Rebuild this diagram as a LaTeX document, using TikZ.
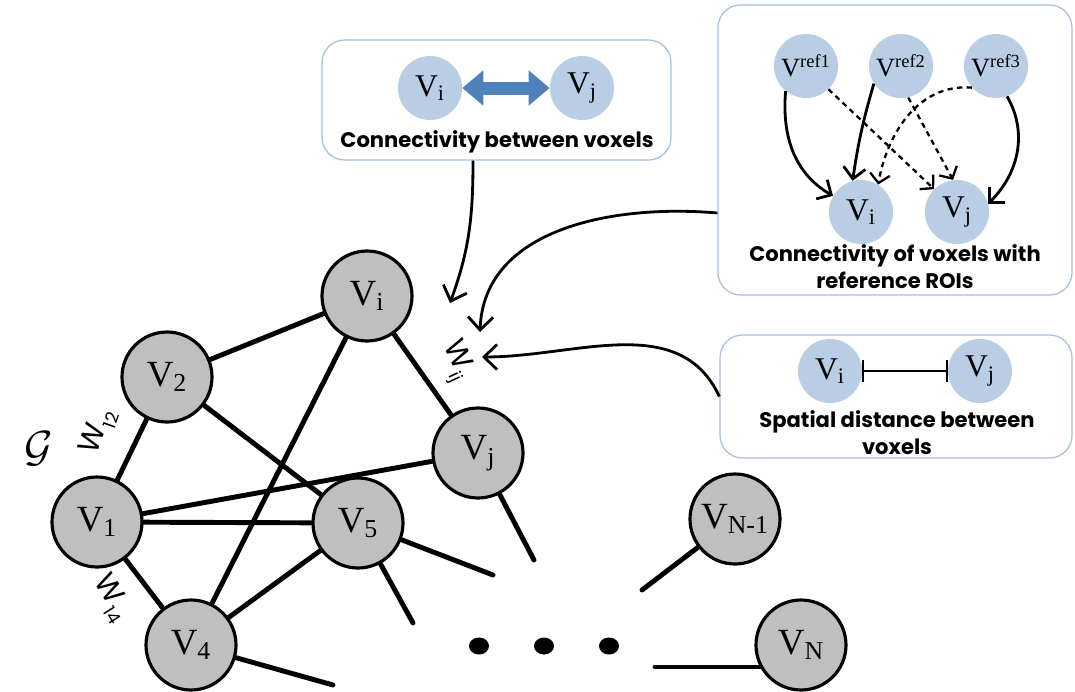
\documentclass[tikz,border=0pt]{standalone}
\usepackage{fontspec}
\setmainfont{Liberation Serif}
\newfontfamily\gothic{Poppins}
\usepackage{tikz}
\usetikzlibrary{positioning, arrows.meta, shapes.geometric}
\definecolor{grigionodo}{HTML}{BFBFBF}
\definecolor{blunodo}{HTML}{B9CDE5}
\definecolor{bordoriq}{HTML}{A7C0DE}
\definecolor{frecciablu}{HTML}{4F81BD}
\tikzset{
	>={Straight Barb[length=2.6mm, width=5mm]},
	% nodo del grafo (voxel)
	nodo/.style={circle, draw, line width=1.8pt, fill=grigionodo, minimum size=1.8cm, inner sep=0pt,
	             font=\fontsize{21}{24}\selectfont},
	% nodo nei riquadri
	nodoblu/.style={circle, fill=blunodo, minimum size=1.28cm, inner sep=0pt,
	                font=\fontsize{18}{20}\selectfont},
	% riquadro arrotondato
	riquadro/.style={draw=bordoriq, line width=0.7pt, rounded corners=0.45cm},
	% didascalia del riquadro
	didascalia/.style={align=center, font=\gothic\bfseries\fontsize{12}{15.5}\selectfont},
	% arco del grafo
	arco/.style={line width=2.8pt, line cap=round},
	% peso di un arco
	peso/.style={font=\gothic\fontsize{17}{19}\selectfont, inner sep=0pt},
	% connettore verso w_ij
	conn/.style={->, line width=1.6pt},
	% frecce nel riquadro delle ROI
	piena/.style={->, line width=1.6pt, >={Straight Barb[length=2.2mm, width=4.4mm]}},
	tratteggio/.style={->, line width=1.3pt, dash pattern=on 3pt off 2.5pt,
	                   >={Straight Barb[length=1.8mm, width=4mm]}},
	% freccia doppia
	doppia/.style={{Triangle[length=0.42cm, width=0.68cm]}-{Triangle[length=0.42cm, width=0.68cm]},
	               line width=0.26cm, draw=frecciablu},
	% distanza spaziale
	distanza/.style={{Bar[width=0.45cm]}-{Bar[width=0.45cm]}, line width=1.2pt},
	% puntini
	punto/.style={ellipse, fill=black, minimum width=0.4cm, minimum height=0.34cm, inner sep=0pt},
}
\newcommand{\pedice}[1]{\kern0.5pt\raisebox{-0.5ex}{\fontsize{10}{10}\selectfont #1}}

\begin{document}
\begin{tikzpicture}
    \useasboundingbox (0,0) rectangle (21.5,-13.82);

    % riquadri
    \node[riquadro, minimum width=6.98cm, minimum height=2.40cm] (r1) at (9.93,-2.00) {};
    \node[riquadro, minimum width=7.08cm, minimum height=5.80cm] (r2) at (17.90,-3.00) {};
    \node[riquadro, minimum width=7.04cm, minimum height=2.46cm] (r3) at (17.92,-7.93) {};

    % connettività tra voxel
    \node[nodoblu] (ai) at (8.60,-1.76) {V\textsubscript{i}};
    \node[nodoblu] (aj) at (11.64,-1.76) {V\textsubscript{j}};
    \draw[doppia] (ai) -- (aj);
    \node[didascalia] (t1) at (9.94,-2.84) {Connectivity between voxels};

    % connettività con le ROI di riferimento
    \node[nodoblu, font=\fontsize{15}{17}\selectfont] (ref1) at (16.12,-1.32) {V\textsuperscript{ref1}};
    \node[nodoblu, font=\fontsize{15}{17}\selectfont] (ref2) at (18.02,-1.32) {V\textsuperscript{ref2}};
    \node[nodoblu, font=\fontsize{15}{17}\selectfont] (ref3) at (19.92,-1.32) {V\textsuperscript{ref3}};
    \node[nodoblu] (bi) at (17.22,-4.24) {V\textsubscript{i}};
    \node[nodoblu] (bj) at (19.14,-4.24) {V\textsubscript{j}};
    \draw[tratteggio] (ref1.-46) -- (bj.135);
    \draw[tratteggio] (ref2.-77) -- (bj.97);
    \draw[tratteggio] (ref3.222) to[out=175, in=80] (bi.58);
    \draw[piena] (ref1.231) to[out=-95, in=150] (bi.150);
    \draw[piena] (ref2.213) to[bend right=4] (bi.105);
    \draw[piena] (ref3.-70) to[out=-60, in=45] (bj.15);
    \node[didascalia] (t2) at (17.90,-5.33) {Connectivity of voxels with\\reference ROIs};

    % distanza spaziale
    \node[nodoblu] (ci) at (16.60,-7.42) {V\textsubscript{i}};
    \node[nodoblu] (cj) at (19.60,-7.42) {V\textsubscript{j}};
    \draw[distanza] (ci) -- (cj);
    \node[didascalia] (t3) at (17.94,-8.65) {Spatial distance between\\voxels};

    % grafo
    \node[nodo] (vi) at (7.34,-5.92) {V\textsubscript{i}};
    \node[nodo] (v2) at (3.34,-7.54) {V\textsubscript{2}};
    \node[nodo] (v1) at (1.94,-10.44) {V\textsubscript{1}};
    \node[nodo] (v5) at (7.16,-10.46) {V\textsubscript{5}};
    \node[nodo] (v4) at (3.82,-12.90) {V\textsubscript{4}};
    \node[nodo] (vj) at (9.56,-9.06) {V\textsubscript{j}};
    \node[nodo] (vn1) at (14.70,-10.38) {V\textsubscript{N-1}};
    \node[nodo] (vn) at (16.02,-12.90) {V\textsubscript{N}};

    \draw[arco] (v2) -- (vi);
    \draw[arco] (v2) -- (v1);
    \draw[arco] (v2) -- (v5);
    \draw[arco] (vi) -- (v4);
    \draw[arco] (vi) -- (vj);
    \draw[arco] (v1) -- (vj);
    \draw[arco] (v1) -- (v5);
    \draw[arco] (v1) -- (v4);
    \draw[arco] (v4) -- (v5);

    % archi verso il resto del grafo
    \coordinate (ej) at (10.68,-11.20);
    \coordinate (e5a) at (9.86,-11.50);
    \coordinate (e5b) at (8.26,-12.46);
    \coordinate (e4) at (6.66,-13.70);
    \coordinate (en1) at (12.84,-11.80);
    \coordinate (en) at (13.10,-13.34);
    \draw[arco] (vj) -- (ej);
    \draw[arco] (v5) -- (e5a);
    \draw[arco] (v5) -- (e5b);
    \draw[arco] (v4) -- (e4);
    \draw[arco] (vn1) -- (en1);
    \draw[arco] (en) -- (en -| vn.209);

    \node[punto] (p1) at (9.58,-12.92) {};
    \node[punto] (p2) at (10.88,-12.92) {};
    \node[punto] (p3) at (12.18,-12.92) {};

    % pesi
    \node[peso, rotate=70] (w12) at (1.96,-8.64) {W\pedice{12}};
    \node[peso, rotate=-58] (w14) at (2.22,-11.96) {W\pedice{14}};
    \node[peso, rotate=-65] (wij) at (9.10,-7.22) {W\pedice{ij}};
    \node[font=\fontsize{30}{30}\selectfont] (g) at (0.78,-8.98) {$\mathcal{G}$};

    % connettori verso w_ij
    \coordinate (wa) at (9.00,-6.06);
    \coordinate (wb) at (9.60,-6.64);
    \coordinate (wc) at (9.64,-7.14);
    \draw[conn] ([xshift=-0.47cm]r1.south) to[out=-90, in=70] (wa);
    \draw[conn] ([yshift=-1.26cm]r2.west) to[out=175, in=88] (wb);
    \draw[conn] (r3.west) to[out=115, in=0] (wc);
\end{tikzpicture}
\end{document}
